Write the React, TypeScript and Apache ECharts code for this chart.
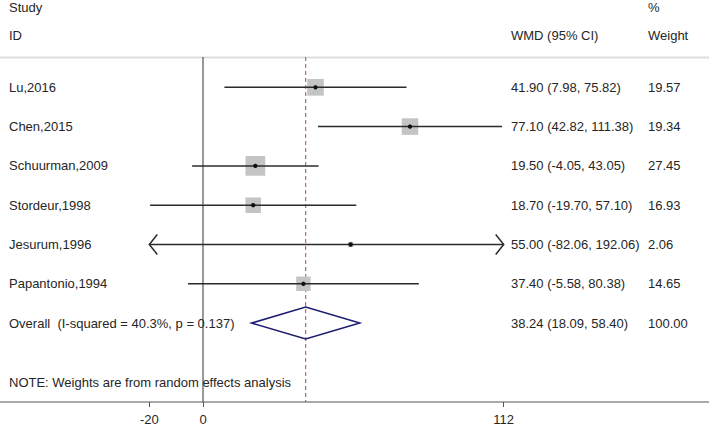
import React, { useEffect, useRef } from "react";
import * as echarts from "echarts";

const studies = ["Lu,2016", "Chen,2015", "Schuurman,2009", "Stordeur,1998", "Jesurum,1996", "Papantonio,1994"];
const estimates = [41.9, 77.1, 19.5, 18.7, 55.0, 37.4];
const lowers = [7.98, 42.82, -4.05, -19.7, -82.06, -5.58];
const uppers = [75.82, 111.38, 43.05, 57.1, 192.06, 80.38];
const weights = [19.57, 19.34, 27.45, 16.93, 2.06, 14.65];

const overallLabel = "Overall  (I-squared = 40.3%, p = 0.137)";
const overallEst = 38.24;
const overallLo = 18.09;
const overallHi = 58.4;
const overallWeight = 100.0;

const xTicks = [-20, 0, 112];
const X_MIN = -20;
const X_MAX = 112;

const FONT = "'Liberation Sans', Arial, Helvetica, sans-serif";
const TEXT_COLOR = "#262626";
const NAME_X = 9;
const WMD_X = 511;
const WEIGHT_X = 648;

const fmt = (e: number, l: number, h: number) => `${e.toFixed(2)} (${l.toFixed(2)}, ${h.toFixed(2)})`;

export default function App() {
  const ref = useRef<HTMLDivElement>(null);
  useEffect(() => {
    if (!ref.current) return;
    const chart = echarts.init(ref.current, null, { renderer: "svg" });
    const Y_MIN = -0.771;
    const Y_MAX = 8.008;
    const studyData = studies.map((s, i) => [i, estimates[i], lowers[i], uppers[i], weights[i]]);
    const overallIdx = studies.length;

    const textEl = (x: number, y: number, text: string) => ({
      type: "text",
      x,
      y,
      style: { text, fill: TEXT_COLOR, font: `13px ${FONT}`, textAlign: "left", textVerticalAlign: "middle" },
    });

    const option: any = {
      animation: false,
      grid: { left: 149.3, right: 205.3, top: 57, bottom: 28 },
      xAxis: {
        type: "value",
        min: X_MIN,
        max: X_MAX,
        axisLine: { show: false, onZero: false },
        splitLine: { show: false },
        axisTick: { show: true, customValues: xTicks, length: 5, lineStyle: { color: "#555", width: 1 } },
        axisLabel: { customValues: xTicks, fontSize: 13, color: TEXT_COLOR, fontFamily: FONT, margin: 11 },
      },
      yAxis: { type: "value", inverse: true, min: Y_MIN, max: Y_MAX, show: false },
      graphic: [
        { type: "line", shape: { x1: 0, y1: 57.5, x2: 709, y2: 57.5 }, style: { stroke: "#dedede", lineWidth: 2 }, z: 0 },
        { type: "line", shape: { x1: 0, y1: 402, x2: 709, y2: 402 }, style: { stroke: "#555", lineWidth: 1.2 }, z: 10 },
        { type: "text", x: NAME_X, y: 7, style: { text: "Study", fill: TEXT_COLOR, font: `13px ${FONT}`, textVerticalAlign: "middle" } },
        { type: "text", x: NAME_X, y: 35, style: { text: "ID", fill: TEXT_COLOR, font: `13px ${FONT}`, textVerticalAlign: "middle" } },
        { type: "text", x: WMD_X, y: 35, style: { text: "WMD (95% CI)", fill: TEXT_COLOR, font: `13px ${FONT}`, textVerticalAlign: "middle" } },
        { type: "text", x: WEIGHT_X, y: 7, style: { text: "%", fill: TEXT_COLOR, font: `13px ${FONT}`, textVerticalAlign: "middle" } },
        { type: "text", x: WEIGHT_X, y: 35, style: { text: "Weight", fill: TEXT_COLOR, font: `13px ${FONT}`, textVerticalAlign: "middle" } },
        { type: "text", x: NAME_X, y: 382, style: { text: "NOTE: Weights are from random effects analysis", fill: TEXT_COLOR, font: `13px ${FONT}`, textVerticalAlign: "middle" } },
      ],
      series: [
        {
          type: "line",
          data: [[0, Y_MIN], [0, Y_MAX]],
          symbol: "none",
          lineStyle: { color: "#333", width: 1 },
          z: 1,
        },
        {
          type: "line",
          data: [[overallEst, Y_MIN], [overallEst, Y_MAX]],
          symbol: "none",
          lineStyle: { color: "#b06a68", width: 1.2, type: [4, 3] },
          z: 2,
        },
        {
          type: "custom",
          clip: false,
          z: 5,
          data: studyData,
          renderItem: (params: any, api: any) => {
            const i = api.value(0);
            const est = api.value(1);
            const lo = api.value(2);
            const hi = api.value(3);
            const w = api.value(4);
            const loC = Math.max(lo, X_MIN);
            const hiC = Math.min(hi, X_MAX);
            const pLo = api.coord([loC, i]);
            const pHi = api.coord([hiC, i]);
            const pE = api.coord([est, i]);
            const side = 3.76 * Math.sqrt(w);
            const children: any[] = [
              { type: "rect", shape: { x: pE[0] - side / 2, y: pE[1] - side / 2, width: side, height: side }, style: { fill: "#c4c4c4" } },
              { type: "line", shape: { x1: pLo[0], y1: pLo[1], x2: pHi[0], y2: pHi[1] }, style: { stroke: "#2b2b2b", lineWidth: 1.5 } },
              { type: "circle", shape: { cx: pE[0], cy: pE[1], r: 2.2 }, style: { fill: "#111" } },
            ];
            if (lo < X_MIN) {
              children.push({ type: "polyline", shape: { points: [[pLo[0] + 8, pLo[1] - 10], [pLo[0], pLo[1]], [pLo[0] + 8, pLo[1] + 10]] }, style: { stroke: "#2b2b2b", lineWidth: 1.5, fill: "none" } });
            }
            if (hi > X_MAX) {
              children.push({ type: "polyline", shape: { points: [[pHi[0] - 8, pHi[1] - 10], [pHi[0], pHi[1]], [pHi[0] - 8, pHi[1] + 10]] }, style: { stroke: "#2b2b2b", lineWidth: 1.5, fill: "none" } });
            }
            children.push(textEl(NAME_X, pE[1], studies[params.dataIndex]));
            children.push(textEl(WMD_X, pE[1], fmt(est, lo, hi)));
            children.push(textEl(WEIGHT_X, pE[1], w.toFixed(2)));
            return { type: "group", children };
          },
        },
        {
          type: "custom",
          clip: false,
          z: 5,
          data: [[overallIdx, overallEst, overallLo, overallHi, overallWeight]],
          renderItem: (params: any, api: any) => {
            const i = api.value(0);
            const est = api.value(1);
            const lo = api.value(2);
            const hi = api.value(3);
            const w = api.value(4);
            const pLo = api.coord([lo, i]);
            const pHi = api.coord([hi, i]);
            const pE = api.coord([est, i]);
            const h = 16;
            return {
              type: "group",
              children: [
                {
                  type: "polygon",
                  shape: { points: [[pLo[0], pLo[1]], [pE[0], pE[1] - h], [pHi[0], pHi[1]], [pE[0], pE[1] + h]] },
                  style: { fill: "none", stroke: "#1c1c70", lineWidth: 1.5 },
                },
                textEl(NAME_X, pE[1], overallLabel),
                textEl(WMD_X, pE[1], fmt(est, lo, hi)),
                textEl(WEIGHT_X, pE[1], w.toFixed(2)),
              ],
            };
          },
        },
      ],
    };
    chart.setOption(option);
    return () => chart.dispose();
  }, []);
  return <div ref={ref} style={{ position: "fixed", left: 0, top: 0, width: 709, height: 430, background: "#fff" }} />;
}
